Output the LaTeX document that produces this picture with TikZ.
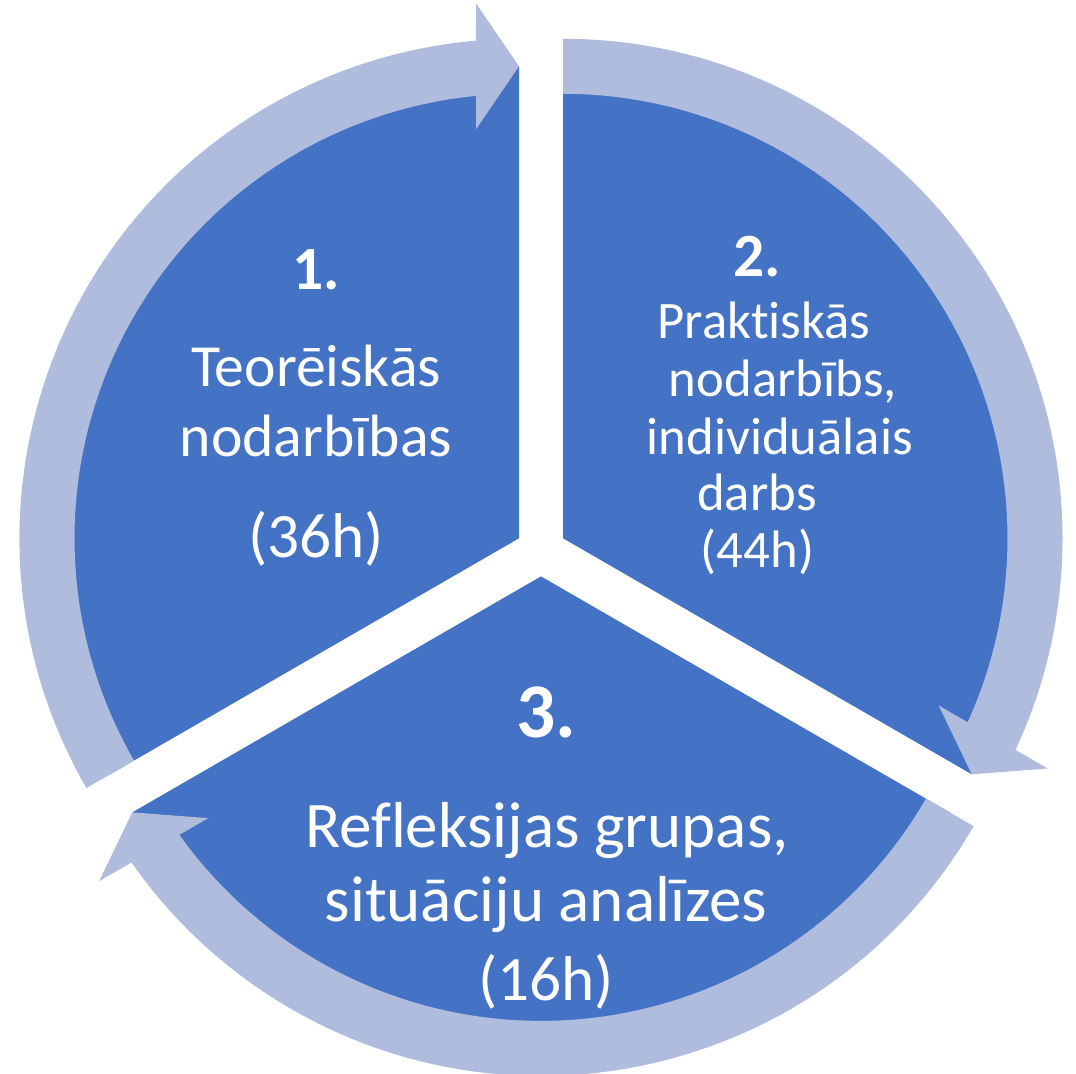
\documentclass[tikz,border=0pt]{standalone}
\usepackage{fontspec}
\setmainfont{Carlito}[Ligatures=NoCommon]
\definecolor{segblue}{RGB}{68,114,196}
\definecolor{ringblue}{RGB}{175,188,221}
\tikzset{
  seg/.style={fill=segblue},
  ringarrow/.style={fill=ringblue},
  lbl/.style={text=white, inner sep=0pt, anchor=base},
  numA/.style={font=\fontsize{35}{40}\selectfont\bfseries},
  numC/.style={font=\fontsize{44}{50}\selectfont\bfseries},
  txtA/.style={font=\fontsize{34}{40}\selectfont},
  txtB/.style={font=\fontsize{30}{34}\selectfont},
  txtC/.style={font=\fontsize{37}{42}\selectfont},
  hrsA/.style={font=\fontsize{36}{42}\selectfont},
}
\newcommand{\cyclearrow}[2]{%
  \fill[ringarrow, shift={#1}, rotate=#2]
    (210:499.5) arc[start angle=210, end angle=94.94, radius=499.5]
    -- (-43,535) -- (0,472) -- (-43,409)
    -- (95.55:444.5) arc[start angle=95.55, end angle=210, radius=444.5]
    -- cycle;
}
\begin{document}
\begin{tikzpicture}[x=0.02cm,y=0.02cm]
\useasboundingbox (0,0) rectangle (1076,1073);
\coordinate (A1) at (519,534.7);
\coordinate (A2) at (563,534.7);
\coordinate (A3) at (541,496.6);
% segments
\fill[seg] (A1) -- ++(90:472) arc[start angle=90, end angle=210, radius=472] -- cycle;
\fill[seg] (A2) -- ++(-30:472) arc[start angle=-30, end angle=90, radius=472] -- cycle;
\fill[seg] (A3) -- ++(210:472) arc[start angle=210, end angle=330, radius=472] -- cycle;
% ring arrows
\cyclearrow{(A1)}{0}
\cyclearrow{(A2)}{-120}
\cyclearrow{(A3)}{120}
% segment 1 text
\node[lbl, numA] (n1) at (316,783) {1.};
\node[lbl, txtA] (t1a) at (316,686) {Teorēiskās};
\node[lbl, txtA] (t1b) at (316,616) {nodarbības};
\node[lbl, hrsA] (h1) at (316,515) {(36h)};
% segment 2 text
\node[lbl, numA] (n2) at (757,796) {2.};
\node[lbl, txtB] (t2a) at (764,734) {Praktiskās};
\node[lbl, txtB] (t2b) at (783,676) {nodarbībs,};
\node[lbl, txtB] (t2c) at (780,618) {individuālais};
\node[lbl, txtB] (t2d) at (757,562) {darbs};
\node[lbl, txtB] (h2) at (757.5,505) {(44h)};
% segment 3 text
\node[lbl, numC] (n3) at (546,336) {3.};
\node[lbl, txtC] (t3a) at (547,225.5) {Refleksijas grupas,};
\node[lbl, txtC] (t3b) at (546,152) {situāciju analīzes};
\node[lbl, hrsA] (h3) at (546,73) {(16h)};
\end{tikzpicture}
\end{document}
